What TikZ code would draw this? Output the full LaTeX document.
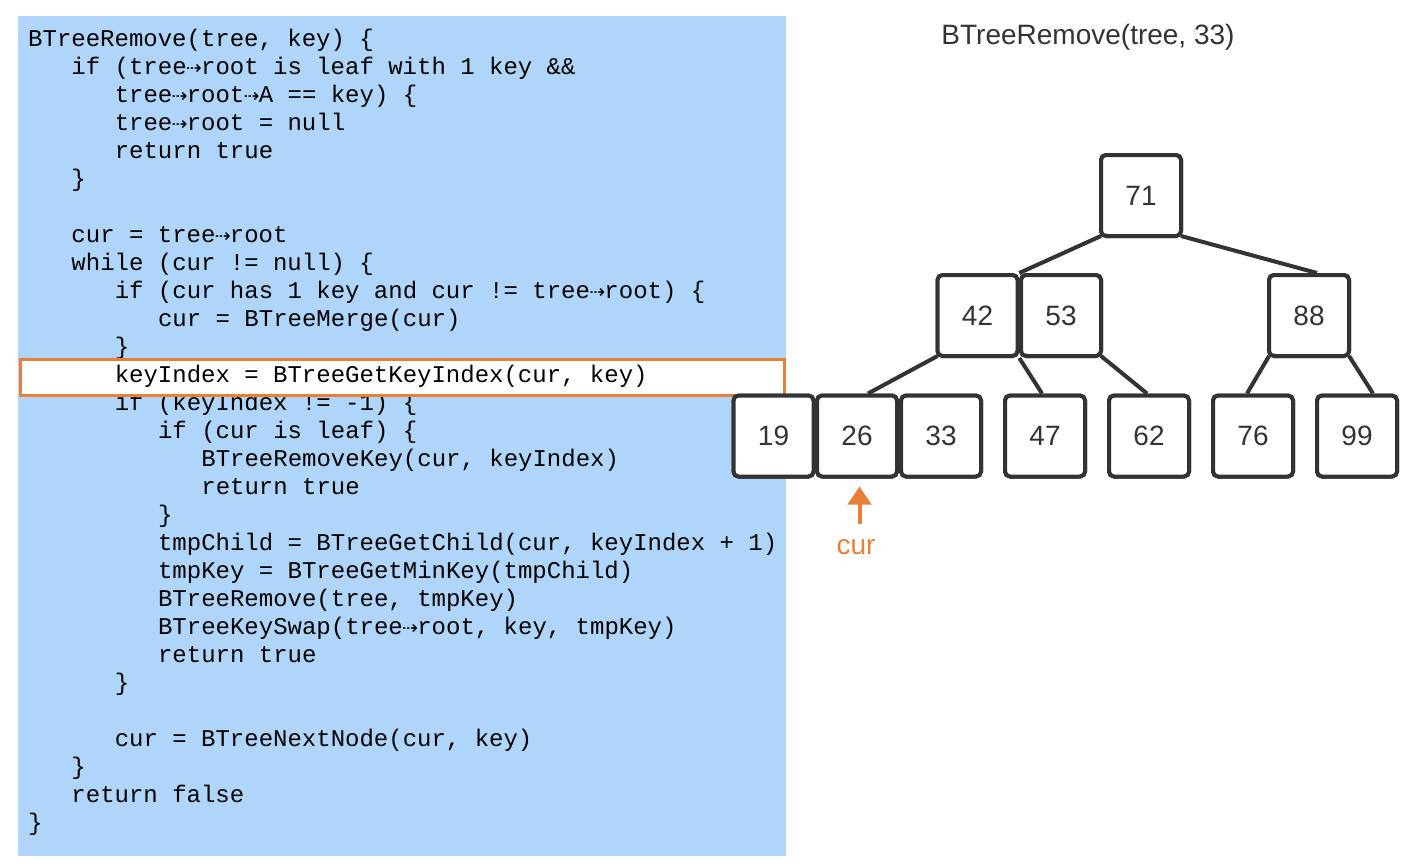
\documentclass[tikz,border=0pt]{standalone}
\usepackage{fontspec}
\setmainfont{Liberation Sans}
\newfontfamily\codefont{Liberation Mono}
\newfontfamily\symfont{DejaVu Sans}
\usetikzlibrary{arrows.meta,calc}
\definecolor{panelblue}{HTML}{AFD5FA}
\definecolor{hlorange}{HTML}{E88038}
\definecolor{boxgray}{HTML}{333333}
\newcommand\ar{\makebox[0.6em][c]{\symfont\fontsize{19}{19}\selectfont ⇢}}
\tikzset{
  code/.style={anchor=base west, inner sep=0pt, font=\codefont\fontsize{24}{28}\selectfont, text=black},
  keybox/.style={draw=boxgray, line width=4pt, fill=white, rounded corners=5pt,
    minimum width=80pt, minimum height=81pt, inner sep=0pt, text=boxgray,
    font=\fontsize{28}{30}\selectfont},
  edge/.style={draw=boxgray, line width=4pt},
  hlbox/.style={draw=hlorange, line width=3pt, fill=white, inner sep=0pt},
  curarrow/.style={draw=hlorange, line width=4pt, -{Triangle[width=23pt,length=18pt]}},
  curlabel/.style={anchor=base, inner sep=0pt, text=hlorange, font=\fontsize{28}{30}\selectfont},
  titletext/.style={anchor=base, inner sep=0pt, text=boxgray, font=\fontsize{28}{30}\selectfont}
}
\newcommand\cl[3]{\node[code] (cl#1) at ({28+14.43*#2},{46.5+28*#1}) {#3};}
\begin{document}
\begin{tikzpicture}[x=1pt,y=-1pt]
\useasboundingbox (0,0) rectangle (1426,864);
\fill[white] (0,0) rectangle (1426,864);
% code panel
\fill[panelblue] (18,16) rectangle (786,856);
\cl{0}{0}{BTreeRemove(tree, key) \{}
\cl{1}{3}{if (tree\ar root is leaf with 1 key \&\&}
\cl{2}{6}{tree\ar root\ar A == key) \{}
\cl{3}{6}{tree\ar root = null}
\cl{4}{6}{return true}
\cl{5}{3}{\}}
\cl{7}{3}{cur = tree\ar root}
\cl{8}{3}{while (cur != null) \{}
\cl{9}{6}{if (cur has 1 key and cur != tree\ar root) \{}
\cl{10}{9}{cur = BTreeMerge(cur)}
\cl{11}{6}{\}}
\cl{13}{6}{if (keyIndex != -1) \{}
\cl{14}{9}{if (cur is leaf) \{}
\cl{15}{12}{BTreeRemoveKey(cur, keyIndex)}
\cl{16}{12}{return true}
\cl{17}{9}{\}}
\cl{18}{9}{tmpChild = BTreeGetChild(cur, keyIndex + 1)}
\cl{19}{9}{tmpKey = BTreeGetMinKey(tmpChild)}
\cl{20}{9}{BTreeRemove(tree, tmpKey)}
\cl{21}{9}{BTreeKeySwap(tree\ar root, key, tmpKey)}
\cl{22}{9}{return true}
\cl{23}{6}{\}}
\cl{25}{6}{cur = BTreeNextNode(cur, key)}
\cl{26}{3}{\}}
\cl{27}{3}{return false}
\cl{28}{0}{\}}
% highlight
\node[hlbox, minimum width=764pt, minimum height=35.5pt] (hl) at (402,377.25) {};
\cl{12}{6}{keyIndex = BTreeGetKeyIndex(cur, key)}
% title
\node[titletext] (title) at (1088,45) {BTreeRemove(tree, 33)};
% tree nodes
\path (1141,195.5) node[keybox] (n71) {71}
      (977.5,315.5) node[keybox] (n42) {42}
      (1061,315.5) node[keybox] (n53) {53}
      (1309,315.5) node[keybox] (n88) {88}
      (773.5,436) node[keybox] (n19) {19}
      (857,436) node[keybox] (n26) {26}
      (941,436) node[keybox] (n33) {33}
      (1045,436) node[keybox] (n47) {47}
      (1149,436) node[keybox] (n62) {62}
      (1253,436) node[keybox] (n76) {76}
      (1357,436) node[keybox] (n99) {99};
% edges
\draw[edge] ([xshift=2pt,yshift=2pt]n71.south west) -- ($(n42.north east)!0.5!(n53.north west)$);
\draw[edge] ([xshift=-2pt,yshift=2pt]n71.south east) -- ([xshift=8pt]n88.north);
\draw[edge] ([xshift=2pt,yshift=2pt]n42.south west) -- ([xshift=11pt]n26.north);
\draw[edge] ($(n42.south east)!0.5!(n53.south west)$) -- ([xshift=-3pt]n47.north);
\draw[edge] ([xshift=-2pt,yshift=2pt]n53.south east) -- ([xshift=-2pt]n62.north);
\draw[edge] ([xshift=2pt,yshift=2pt]n88.south west) -- ([xshift=-6pt]n76.north);
\draw[edge] ([xshift=-2pt,yshift=2pt]n88.south east) -- ([xshift=16pt]n99.north);
% redraw nodes on top of edges
\path (1141,195.5) node[keybox] {71}
      (977.5,315.5) node[keybox] {42}
      (1061,315.5) node[keybox] {53}
      (1309,315.5) node[keybox] {88}
      (773.5,436) node[keybox] {19}
      (857,436) node[keybox] {26}
      (941,436) node[keybox] {33}
      (1045,436) node[keybox] {47}
      (1149,436) node[keybox] {62}
      (1253,436) node[keybox] {76}
      (1357,436) node[keybox] {99};
% cur pointer
\node[curlabel] (cur) at (856,554) {cur};
\coordinate (curtail) at (859.5,524);
\draw[curarrow] (curtail) -- ([xshift=2.5pt,yshift=-8pt]n26.south);
\end{tikzpicture}
\end{document}
